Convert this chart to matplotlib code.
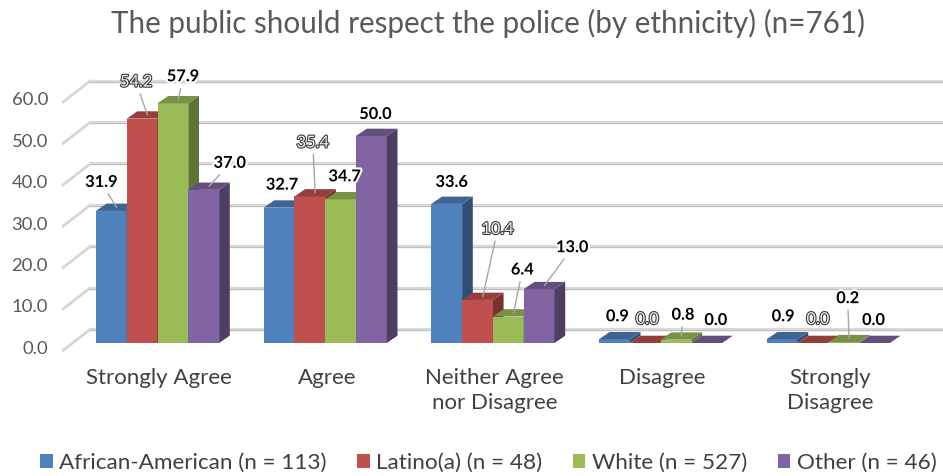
import matplotlib.pyplot as plt
import matplotlib.patheffects as pe
from matplotlib.patches import Polygon, Patch

plt.rcParams['font.family'] = ['Lato', 'DejaVu Sans']

title = "The public should respect the police (by ethnicity) (n=761)"
categories = ["Strongly Agree", "Agree", "Neither Agree\nnor Disagree", "Disagree", "Strongly\nDisagree"]
groups = ["African-American (n = 113)", "Latino(a) (n = 48)", "White (n = 527)", "Other (n = 46)"]
african_american = [31.9, 32.7, 33.6, 0.9, 0.9]
latino = [54.2, 35.4, 10.4, 0.0, 0.0]
white = [57.9, 34.7, 6.4, 0.8, 0.2]
other = [37.0, 50.0, 13.0, 0.0, 0.0]
yticks = [0, 10, 20, 30, 40, 50, 60]

series = [african_american, latino, white, other]
colors = ["#4F81BD", "#C0504D", "#9BBB59", "#8064A2"]

# label offsets (pixels, right / up) from the front top of each bar, and leader line flags
label_offsets = [
    [(-10, 28), (3, 22), (5, 21), (3, 22), (1, 22)],
    [(-6, 36), (3, 53), (20, 70), (2, 23), (5, 23)],
    [(10, 26), (4, 22), (14, 46), (7, 24), (4, 43)],
    [(26, 26), (4, 21), (33, 41), (9, 22), (-1, 22)],
]
leaders = [
    [True, False, False, False, False],
    [True, True, True, False, False],
    [True, False, True, True, True],
    [True, False, True, False, False],
]

# geometry measured in pixels of the reference
W, H = 943, 476
CAT_PX = 167.7      # pixels between category centres
UNIT_PX = 4.14      # pixels per percentage point
X0_PX, Y0_PX = 157.5, 343
BAR_W = 30.8 / CAT_PX
DX, DY = 10.7 / CAT_PX, 7.3 / UNIT_PX
FLOOR_X, FLOOR_Y = (63 - X0_PX) / CAT_PX, -7 / UNIT_PX
WALL_X, WALL_Y = (90 - X0_PX) / CAT_PX, 14 / UNIT_PX


def shade(c, f):
    c = c.lstrip('#')
    r, g, b = (int(c[i:i + 2], 16) for i in (0, 2, 4))
    return '#%02x%02x%02x' % (int(r * f), int(g * f), int(b * f))


fig = plt.figure(figsize=(W / 100, H / 100), dpi=100)
ax = fig.add_axes([0, 0, 1, 1])
ax.set_xlim(-X0_PX / CAT_PX, (W - X0_PX) / CAT_PX)
ax.set_ylim((Y0_PX - H) / UNIT_PX, Y0_PX / UNIT_PX)
ax.axis('off')

# back wall / floor gridlines (light line with a faint shadow underneath)
xmax = (W - X0_PX) / CAT_PX
for t in yticks:
    for dy, col, lw in ((-0.25, "#bdbdbd", 1.0), (0.0, "#d9d9d9", 1.6)):
        ax.plot([WALL_X, xmax], [t + WALL_Y + dy, t + WALL_Y + dy], color=col, lw=lw, zorder=1)
        ax.plot([FLOOR_X, WALL_X], [t + FLOOR_Y + dy, t + WALL_Y + dy], color=col, lw=lw, zorder=1)
    ax.text(FLOOR_X - 15 / CAT_PX, t + FLOOR_Y + 0.3, f"{t:.1f}", ha='right', va='center',
            fontsize=13.3, color="#595959")

# 3-D looking bars
for i in range(len(categories)):
    for j, vals in enumerate(series):
        v = vals[i]
        x = i + (j - 2) * BAR_W
        front = Polygon([(x, 0), (x + BAR_W, 0), (x + BAR_W, v), (x, v)], closed=True,
                        facecolor=colors[j], edgecolor='none', zorder=3)
        top = Polygon([(x, v), (x + BAR_W, v), (x + BAR_W + DX, v + DY), (x + DX, v + DY)],
                      closed=True, facecolor=shade(colors[j], 0.78), edgecolor='none', zorder=3)
        side = Polygon([(x + BAR_W, 0), (x + BAR_W + DX, DY), (x + BAR_W + DX, v + DY), (x + BAR_W, v)],
                       closed=True, facecolor=shade(colors[j], 0.62), edgecolor='none', zorder=3)
        for p in (front, side, top):
            ax.add_patch(p)

        ox, oy = label_offsets[j][i]
        anchor = (x + BAR_W / 2 + DX / 2, v + DY / 2)
        off = (ox - 5.35, oy - 3.65)
        if j == 1:
            style = dict(color='#f0f0f0', fontweight='normal',
                         path_effects=[pe.withStroke(linewidth=1.6, foreground='#3a3a3a')])
        else:
            style = dict(color='black', fontweight='bold',
                         path_effects=[pe.withStroke(linewidth=3, foreground='white')])
        arrow = dict(arrowstyle='-', color='#a6a6a6', lw=1, shrinkA=1, shrinkB=0) if leaders[j][i] else None
        ax.annotate(f"{v:.1f}", xy=anchor, xytext=off, textcoords='offset pixels',
                    ha='center', va='center', fontsize=11.8, arrowprops=arrow, zorder=5, **style)

# category labels
for i, c in enumerate(categories):
    ax.text(i + 0.01, (Y0_PX - 368) / UNIT_PX, c, ha='center', va='top', fontsize=16,
            color="#404040", linespacing=1.3)

fig.text(0.517, 1 - 23 / H, title, ha='center', va='center', fontsize=21.3, color="#595959")

handles = [Patch(facecolor=c, edgecolor='none') for c in colors]
fig.legend(handles, groups, loc='center', bbox_to_anchor=(0.518, 1 - 463 / H), ncol=4,
           frameon=False, fontsize=16.2, handlelength=0.55, handleheight=0.55,
           handletextpad=0.3, columnspacing=1.35, labelcolor="#404040")

fig.savefig("out.png", dpi=100)
